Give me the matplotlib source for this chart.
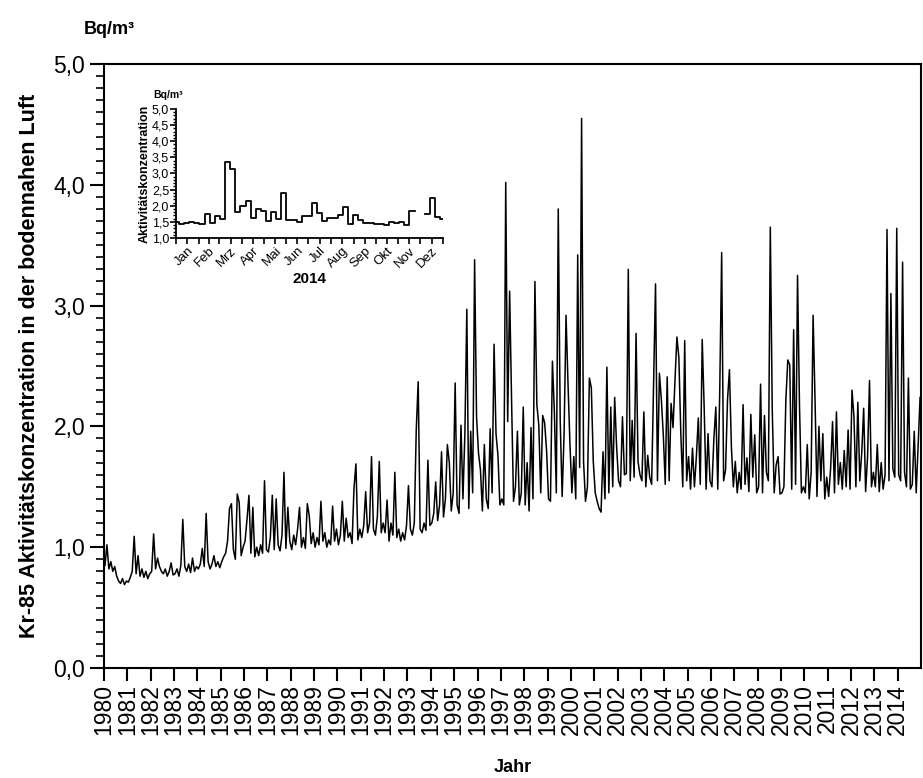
import numpy as np
import matplotlib
matplotlib.use("Agg")
import matplotlib.pyplot as plt
from matplotlib.ticker import FuncFormatter, MultipleLocator, FixedLocator, NullLocator

plt.rcParams['font.family'] = ['Liberation Sans', 'DejaVu Sans']

# Kr-85 monthly values (Bq/m3), one row per year
years = list(range(1980, 2015))
kr85_1980s = [
    [0.85, 1.02, 0.82, 0.88, 0.80, 0.84, 0.76, 0.72, 0.70, 0.74, 0.69, 0.72],  # 1980
    [0.71, 0.75, 0.80, 1.09, 0.78, 0.93, 0.76, 0.82, 0.75, 0.80, 0.74, 0.78],  # 1981
    [0.80, 1.11, 0.82, 0.91, 0.84, 0.80, 0.78, 0.82, 0.76, 0.80, 0.87, 0.77],  # 1982
    [0.78, 0.82, 0.76, 0.85, 1.23, 0.84, 0.80, 0.86, 0.79, 0.91, 0.80, 0.84],  # 1983
    [0.82, 0.86, 0.99, 0.84, 1.28, 0.88, 0.82, 0.86, 0.93, 0.84, 0.88, 0.83],  # 1984
    [0.88, 0.92, 0.95, 1.05, 1.32, 1.36, 0.98, 0.90, 1.44, 1.37, 0.93, 1.00],  # 1985
    [1.05, 1.23, 1.43, 0.95, 1.33, 0.92, 1.00, 0.93, 1.02, 0.95, 1.55, 0.98],  # 1986
    [0.96, 1.08, 1.43, 0.98, 1.40, 1.02, 0.97, 1.10, 1.62, 0.99, 1.33, 1.05],  # 1987
    [0.98, 1.10, 1.02, 1.15, 1.33, 1.00, 1.08, 0.99, 1.36, 1.26, 1.03, 1.12],  # 1988
    [1.00, 1.08, 1.02, 1.38, 1.05, 1.12, 1.00, 1.06, 1.02, 1.34, 1.05, 1.15],  # 1989
]
kr85_1990s = [
    [1.02, 1.10, 1.38, 1.05, 1.24, 1.08, 1.12, 1.03, 1.49, 1.69, 1.06, 1.15],  # 1990
    [1.08, 1.18, 1.46, 1.12, 1.20, 1.75, 1.15, 1.10, 1.25, 1.71, 1.12, 1.20],  # 1991
    [1.12, 1.39, 1.05, 1.20, 1.10, 1.62, 1.08, 1.15, 1.05, 1.12, 1.06, 1.18],  # 1992
    [1.51, 1.15, 1.10, 1.20, 1.97, 2.37, 1.15, 1.12, 1.20, 1.14, 1.72, 1.18],  # 1993
    [1.20, 1.28, 1.54, 1.22, 1.35, 1.79, 1.25, 1.40, 1.85, 1.70, 1.30, 1.45],  # 1994
    [2.36, 1.35, 1.28, 2.01, 1.40, 1.94, 2.97, 1.32, 1.96, 1.45, 3.38, 2.08],  # 1995
    [1.78, 1.64, 1.30, 1.85, 1.40, 1.32, 1.98, 1.45, 2.68, 1.94, 1.76, 1.35],  # 1996
    [1.40, 1.35, 4.02, 2.04, 3.12, 2.22, 1.38, 1.50, 1.96, 1.35, 1.45, 2.16],  # 1997
    [1.35, 1.70, 1.30, 1.99, 1.40, 3.20, 2.18, 2.01, 1.45, 2.09, 2.03, 1.80],  # 1998
    [1.40, 1.38, 2.54, 2.12, 1.45, 3.80, 2.05, 1.42, 1.94, 2.92, 2.36, 1.86],  # 1999
]
kr85_2000s = [
    [1.45, 1.75, 1.40, 3.42, 1.66, 4.55, 1.71, 1.38, 1.50, 2.40, 2.32, 1.71],  # 2000
    [1.45, 1.38, 1.32, 1.29, 1.79, 1.40, 2.49, 1.45, 2.16, 1.50, 2.24, 1.83],  # 2001
    [1.55, 1.50, 2.08, 1.60, 1.61, 3.30, 1.55, 2.05, 1.58, 2.77, 1.71, 1.60],  # 2002
    [1.55, 2.12, 1.50, 1.76, 1.58, 1.52, 2.37, 3.18, 1.55, 2.44, 2.22, 1.93],  # 2003
    [1.52, 2.41, 1.55, 2.19, 1.99, 2.38, 2.74, 2.57, 1.94, 1.50, 2.71, 1.55],  # 2004
    [1.75, 1.48, 1.82, 1.50, 1.75, 2.07, 1.52, 2.72, 2.16, 1.48, 1.94, 1.55],  # 2005
    [1.50, 1.90, 2.16, 1.48, 2.28, 3.44, 1.55, 1.64, 2.22, 2.47, 1.83, 1.50],  # 2006
    [1.71, 1.45, 1.62, 1.48, 2.18, 1.52, 1.74, 1.46, 2.10, 1.58, 1.93, 1.45],  # 2007
    [1.50, 2.35, 1.45, 2.09, 1.62, 1.55, 3.65, 2.14, 1.45, 1.68, 1.75, 1.44],  # 2008
    [1.45, 1.50, 2.22, 2.55, 2.51, 1.48, 2.80, 1.52, 3.25, 2.18, 1.45, 1.50],  # 2009
]
kr85_2010s = [
    [1.45, 1.85, 1.40, 1.62, 2.92, 2.22, 1.42, 2.00, 1.55, 1.94, 1.40, 1.58],  # 2010
    [1.42, 1.65, 2.04, 1.45, 2.12, 1.52, 1.70, 1.48, 1.80, 1.50, 1.97, 1.48],  # 2011
    [2.30, 2.08, 1.50, 2.20, 1.55, 1.78, 2.15, 1.46, 1.75, 2.38, 1.50, 1.62],  # 2012
    [1.50, 1.85, 1.46, 1.70, 1.48, 1.60, 3.63, 1.55, 3.10, 1.65, 1.58, 3.64],  # 2013
    [1.60, 1.55, 3.36, 1.62, 1.50, 2.40, 1.48, 1.52, 1.96, 1.45, 1.85, 2.24],  # 2014
]

# 2014 weekly values for the inset (first week starts 3 days before 1 Jan)
week_start_offset = -3
weekly_2014 = [1.50, 1.42, 1.47, 1.49, 1.47, 1.44, 1.73, 1.47, 1.67, 1.60,
               3.37, 3.15, 1.80, 2.00, 2.15, 1.62, 1.90, 1.83, 1.53, 1.82,
               1.60, 2.40, 1.57, 1.57, 1.49, 1.68, 1.68, 2.07, 1.77, 1.53,
               1.63, 1.62, 1.72, 1.97, 1.43, 1.72, 1.57, 1.47, 1.45, 1.42,
               1.43, 1.39, 1.50, 1.45, 1.50, 1.40, 1.85, np.nan, np.nan, 1.75,
               2.25, 1.65, 1.58]
month_names = ['Jan', 'Feb', 'Mrz', 'Apr', 'Mai', 'Jun', 'Jul', 'Aug', 'Sep', 'Okt', 'Nov', 'Dez']
month_days = [31, 28, 31, 30, 31, 30, 31, 31, 30, 31, 30, 31]

monthly = np.array(kr85_1980s + kr85_1990s + kr85_2000s + kr85_2010s)
t = np.array([y + (m + 0.5) / 12 for y in years for m in range(12)])
vals = monthly.ravel()

comma = FuncFormatter(lambda v, p: f"{v:.1f}".replace('.', ','))

fig = plt.figure(figsize=(9.23, 7.78), dpi=100)

# main axes
ax = fig.add_axes([0.1127, 0.1414, 0.8852, 0.7763])
ax.plot(t, vals, color='black', lw=1.1)
ax.set_xlim(1980, 2015)
ax.set_ylim(0, 5)
ax.xaxis.set_major_locator(FixedLocator(years))
ax.set_xticklabels([str(y) for y in years], rotation=90, fontsize=16.5)
ax.xaxis.set_minor_locator(NullLocator())
ax.yaxis.set_major_locator(MultipleLocator(1))
ax.yaxis.set_minor_locator(MultipleLocator(0.1))
ax.yaxis.set_major_formatter(comma)
ax.tick_params(axis='y', which='major', length=10, width=1.5, labelsize=16.5, direction='out')
ax.tick_params(axis='y', which='minor', length=5.5, width=1.2, direction='out')
ax.tick_params(axis='x', which='major', length=9.5, width=1.5, direction='out', pad=2)
for s in ax.spines.values():
    s.set_linewidth(1.5)
ax.set_ylabel('Kr-85 Aktivitätskonzentration in der bodennahen Luft',
              fontsize=15.5, fontweight='bold', labelpad=10)
ax.set_xlabel('Jahr', fontsize=13, fontweight='bold', labelpad=17)
fig.text(0.118, 0.962, 'Bq/m³', fontsize=13, fontweight='bold', ha='center', va='center')

# inset: weekly values 2014
ins = fig.add_axes([0.1907, 0.6941, 0.2893, 0.1658])
edges = week_start_offset + 7 * np.arange(len(weekly_2014) + 1)
ins.step(edges, np.append(weekly_2014, weekly_2014[-1]), where='post', color='black', lw=1.3)
ins.set_xlim(0, 365)
ins.set_ylim(1.0, 5.0)
ins.spines['top'].set_visible(False)
ins.spines['right'].set_visible(False)
for s in ['left', 'bottom']:
    ins.spines[s].set_linewidth(1.3)
bounds = np.concatenate([[0], np.cumsum(month_days)])
mids = (bounds[:-1] + bounds[1:]) / 2
ins.xaxis.set_major_locator(FixedLocator(bounds))
ins.xaxis.set_major_formatter(FuncFormatter(lambda v, p: ''))
ins.set_xticks(mids, month_names, minor=True)
for lab in ins.get_xticklabels(minor=True):
    lab.set_rotation(45)
    lab.set_ha('right')
    lab.set_rotation_mode('anchor')
ins.tick_params(axis='x', which='both', length=4, width=1.2, labelsize=9.5, pad=1)
ins.yaxis.set_major_locator(MultipleLocator(0.5))
ins.yaxis.set_minor_locator(MultipleLocator(0.1))
ins.yaxis.set_major_formatter(comma)
ins.tick_params(axis='y', which='major', length=4, width=1.2, labelsize=9, pad=1)
ins.tick_params(axis='y', which='minor', length=2.5, width=1.0)
ins.patch.set_alpha(0)
ins.set_ylabel('Aktivitätskonzentration', fontsize=9, fontweight='bold', labelpad=1)
ins.set_xlabel('2014', fontsize=11, fontweight='bold', labelpad=1)
fig.text(0.182, 0.878, 'Bq/m³', fontsize=7.5, fontweight='bold', ha='center', va='center')

fig.savefig('out.png', dpi=100)
